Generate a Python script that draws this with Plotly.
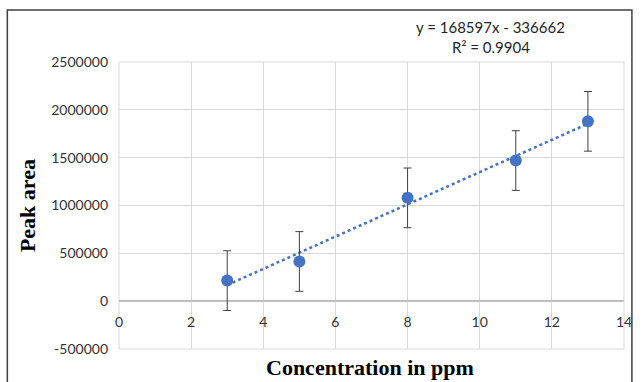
import plotly.graph_objects as go

# Data
concentration = [3, 5, 8, 11, 13]
peak_area = [215000, 415000, 1080000, 1470000, 1880000]
error = [312000, 312000, 312000, 312000, 312000]
slope = 168597
intercept = -336662
r_squared = 0.9904
x_ticks = [0, 2, 4, 6, 8, 10, 12, 14]
y_ticks = [-500000, 0, 500000, 1000000, 1500000, 2000000, 2500000]
y_tick_labels = [str(v) for v in y_ticks]

W, H = 644, 382
L, R, T, B = 119, 630, 62, 349  # plot area in pixels
pw, ph = R - L, B - T

fig = go.Figure()

trend_x = [min(concentration), max(concentration)]
trend_y = [slope * x + intercept for x in trend_x]
fig.add_trace(go.Scatter(x=trend_x, y=trend_y, mode="lines",
                         line=dict(color="#4472C4", width=2.5, dash="dot"),
                         showlegend=False, hoverinfo="skip"))

fig.add_trace(go.Scatter(
    x=concentration, y=peak_area, mode="markers",
    marker=dict(color="#4472C4", size=12),
    error_y=dict(type="data", array=error, visible=True, color="#404040",
                 thickness=1, width=4),
    showlegend=False))

grid = "#d9d9d9"
tickfont = dict(family="Lato, Open Sans, sans-serif", size=14, color="#333333")
fig.update_layout(
    width=W, height=H,
    margin=dict(l=L, r=W - R, t=T, b=H - B),
    paper_bgcolor="white", plot_bgcolor="white",
    xaxis=dict(range=[0, 14], tickvals=x_ticks, showgrid=True, gridcolor=grid,
               gridwidth=1, zeroline=False, showline=False, ticks="",
               anchor="free", position=(B - 301) / ph, ticklabelstandoff=11,
               tickfont=tickfont),
    yaxis=dict(range=[-500000, 2500000], tickvals=y_ticks, ticktext=y_tick_labels,
               showgrid=True, gridcolor=grid, gridwidth=1, zeroline=True,
               zerolinecolor="#bfbfbf", zerolinewidth=1.5, showline=False, ticks="",
               ticklabelstandoff=10, tickfont=tickfont),
)

fig.add_shape(type="rect", xref="x domain", yref="y domain", x0=0, x1=1, y0=0, y1=1,
              line=dict(color=grid, width=1), layer="below")

# outer frame
fig.add_shape(type="rect", xref="paper", yref="paper",
              x0=(6 - L) / pw, x1=(638 - L) / pw,
              y0=(B - 400) / ph, y1=(B - 10) / ph,
              line=dict(color="#404040", width=1.5))

eq_font = dict(family="Lato, Open Sans, sans-serif", size=15, color="#262626")
fig.add_annotation(xref="paper", yref="paper", x=(495 - L) / pw, y=(B - 27) / ph,
                   xanchor="center", yanchor="middle",
                   text=f"y = {slope}x - {abs(intercept)}", showarrow=False, font=eq_font)
fig.add_annotation(xref="paper", yref="paper", x=(495 - L) / pw, y=(B - 47) / ph,
                   xanchor="center", yanchor="middle",
                   text=f"R² = {r_squared}", showarrow=False, font=eq_font)

fig.add_annotation(xref="paper", yref="paper", x=(373 - L) / pw, y=(B - 367) / ph,
                   xanchor="center", yanchor="middle",
                   text="<b>Concentration in ppm</b>", showarrow=False,
                   font=dict(family="Liberation Serif, Times New Roman, serif", size=22, color="black"))
fig.add_annotation(xref="paper", yref="paper", x=(26 - L) / pw, y=(B - 206) / ph,
                   xanchor="center", yanchor="middle",
                   text="<b>Peak area</b>", showarrow=False, textangle=-90,
                   font=dict(family="Liberation Serif, Times New Roman, serif", size=22, color="black"))

fig.write_html("out.html")
